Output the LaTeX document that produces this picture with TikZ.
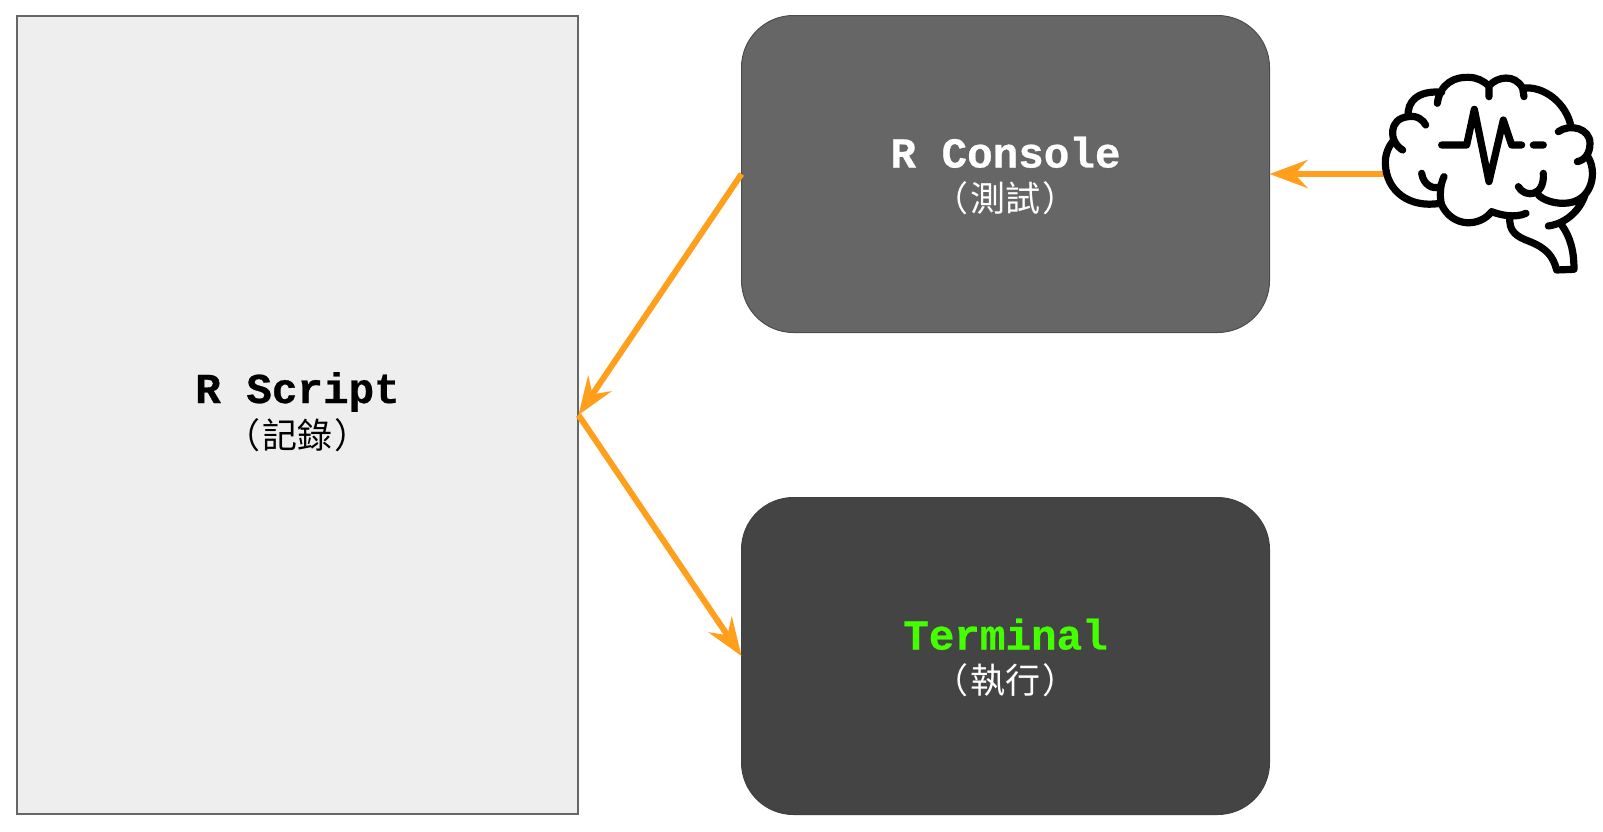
\documentclass[tikz,border=0pt]{standalone}
\usepackage{fontspec}
\setmonofont[BoldFeatures={FakeBold=0.6}]{Liberation Mono}
\newfontfamily\cjk{Noto Sans CJK TC}
\usetikzlibrary{arrows.meta}
\definecolor{orangeline}{HTML}{FF9F1C}
\definecolor{termgreen}{HTML}{44FF00}
\newcommand{\subgap}{\hspace{2.5pt}}
\tikzset{
  panel/.style={rectangle,rounded corners=52pt,outer sep=0pt,inner sep=0pt,line width=1pt},
  scriptbox/.style={rectangle,fill=black!6.7,draw=black!60,line width=2pt,outer sep=0pt,inner sep=0pt,minimum width=561.5pt,minimum height=798.5pt},
  consolebox/.style={panel,fill=black!60,draw=black!70,minimum width=528pt,minimum height=317pt},
  terminalbox/.style={panel,fill=black!73.3,draw=black!75,minimum width=528pt,minimum height=317pt},
  titletext/.style={font=\ttfamily\bfseries\fontsize{42.6}{46}\selectfont,anchor=base,inner sep=0pt},
  subtext/.style={font=\cjk\fontsize{35}{38}\selectfont,anchor=center,inner sep=0pt},
  flow/.style={draw=orangeline,line width=6pt,-{Stealth[length=38pt,width=28pt,inset=13pt,color=orangeline]}},
  brainline/.style={draw=black,line width=7.2pt,line cap=round,line join=round}
}
\begin{document}
\begin{tikzpicture}[x=1pt,y=-1pt]
\useasboundingbox (0,0) rectangle (1603,831);
\node[scriptbox] (script) at (297.7,415) {};
\node[consolebox] (console) at (1005.5,174) {};
\node[terminalbox] (terminal) at (1005.5,656) {};
\node[titletext,text=black] (t1) at (297.5,403) {R Script};
\node[subtext,text=black] (s1) at (297.5,435) {（\subgap 記錄\subgap ）};
\node[titletext,text=white] (t2) at (1005.5,167.5) {R Console};
\node[subtext,text=white] (s2) at (1005.5,198) {（\subgap 測試\subgap ）};
\node[titletext,text=termgreen] (t3) at (1005.5,649.5) {Terminal};
\node[subtext,text=white] (s3) at (1005.5,680) {（\subgap 執行\subgap ）};
\coordinate (brainw) at (1384,174);
\draw[flow] (brainw) -- (console.east);
\draw[flow] (console.west) -- (script.east);
\draw[flow] (script.east) -- (terminal.west);
\begin{scope}[shift={(1340,60)},x=0.3333pt,y=-0.3333pt]
\path[brainline]
  (205,168) .. controls (200,125) and (235,90) .. (305,97)
  (292,130) .. controls (300,70) and (345,50) .. (385,52) .. controls (410,52) and (430,62) .. (447,78)
  (447,110) -- (447,78) .. controls (470,50) and (525,40) .. (548,85)
  (552,110) -- (548,85) .. controls (610,75) and (680,130) .. (693,200)
  (655,215) .. controls (690,190) and (750,205) .. (750,250) .. controls (750,280) and (735,300) .. (712,305)
  (740,285) .. controls (775,330) and (760,430) .. (670,430) .. controls (640,430) and (610,420) .. (595,405)
  (535,380) .. controls (555,415) and (615,410) .. (610,340)
  (735,405) .. controls (720,450) and (680,490) .. (625,498)
  (665,495) .. controls (690,530) and (702,570) .. (702,628) -- (650,630) .. controls (640,590) and (620,565) .. (570,545) .. controls (530,530) and (505,515) .. (510,470)
  (558,460) .. controls (525,475) and (480,465) .. (455,455) .. controls (420,500) and (340,505) .. (305,435) .. controls (298,410) and (300,375) .. (312,350)
  (300,430) .. controls (210,445) and (138,395) .. (136,310) .. controls (135,285) and (145,260) .. (160,242)
  (188,270) .. controls (145,245) and (145,175) .. (205,170) .. controls (230,165) and (250,180) .. (257,195)
  (245,340) .. controls (250,375) and (280,390) .. (300,380)
  (305,255) -- (380,255) -- (403,148) -- (447,365) -- (490,180) -- (515,255) -- (545,255)
  (580,255) -- (610,255);
\end{scope}
\end{tikzpicture}
\end{document}
